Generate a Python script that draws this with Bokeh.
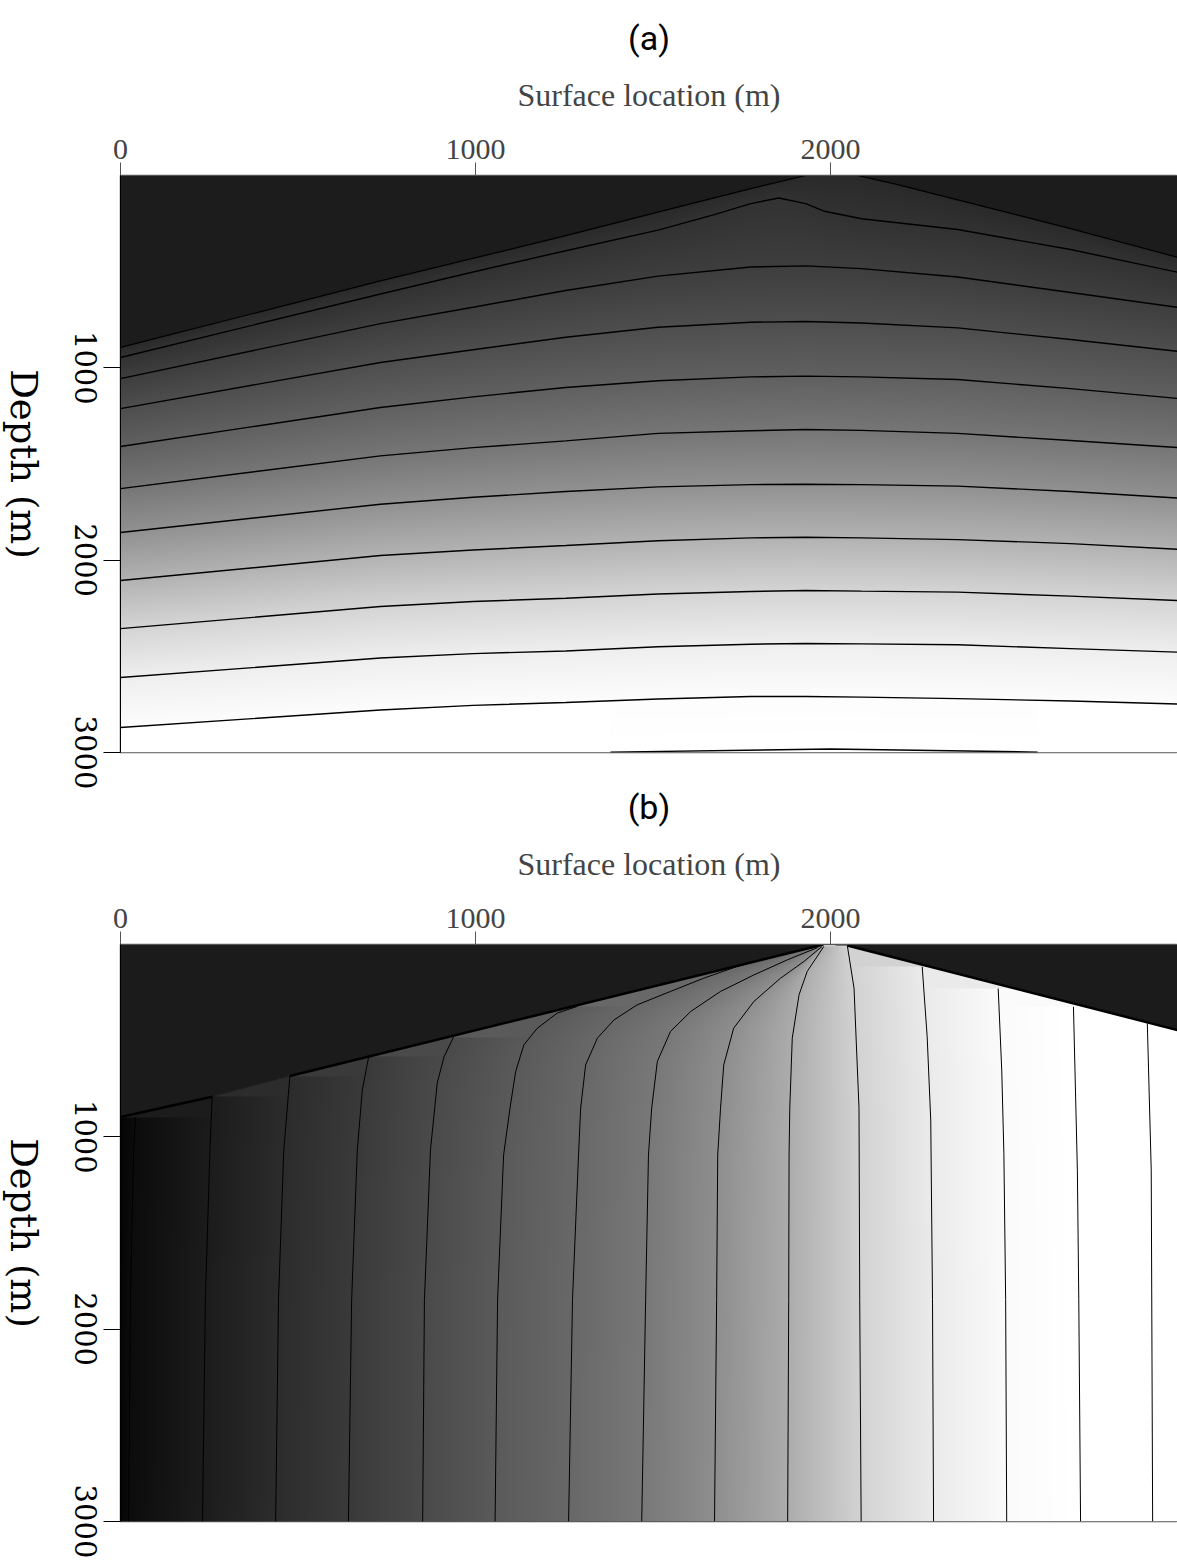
import numpy as np
from bokeh.plotting import figure
from bokeh.models import FixedTicker, Range1d, LinearColorMapper, Title, LinearAxis
from bokeh.layouts import column, row
from bokeh.embed import file_html
from bokeh.resources import INLINE

# ---------------- data ----------------
XMAX = 2977.0
ZMAX = 3000.0
x_ticks = [0, 1000, 2000]
z_ticks = [1000, 2000, 3000]

# panel (a): top of the computed region and the depth of each contour
a_top_x = [0, 732, 1254, 1566, 1775, 1930, 2076, 2192, 2358, 2676, 2977]
a_top_z = [894, 548, 313, 166, 68, 0, 0, 49, 127, 276, 425]
a_c1_x = [0, 732, 993, 1254, 1514, 1670, 1775, 1854, 1930, 1983, 2087, 2358, 2676, 2977]
a_c1_z = [946, 616, 502, 391, 284, 205, 146, 117, 146, 186, 225, 281, 385, 503]
a_cx = [0, 732, 993, 1254, 1514, 1775, 1930, 2087, 2358, 2676, 2977]
a_cz = [
    [1056, 770, 685, 598, 523, 476, 470, 484, 528, 608, 685],
    [1212, 972, 906, 841, 789, 763, 759, 767, 792, 853, 914],
    [1409, 1206, 1151, 1102, 1067, 1047, 1043, 1047, 1061, 1108, 1159],
    [1628, 1458, 1415, 1380, 1341, 1327, 1321, 1325, 1341, 1378, 1414],
    [1856, 1709, 1673, 1643, 1619, 1607, 1605, 1607, 1615, 1643, 1677],
    [2106, 1976, 1947, 1924, 1899, 1884, 1881, 1884, 1893, 1914, 1943],
    [2356, 2241, 2215, 2198, 2176, 2163, 2158, 2161, 2166, 2187, 2210],
    [2610, 2509, 2486, 2472, 2450, 2437, 2433, 2435, 2440, 2460, 2478],
    [2870, 2779, 2755, 2740, 2722, 2709, 2709, 2712, 2720, 2732, 2748],
]
a_c11_x = [1380, 2000, 2583]
a_c11_z = [2998, 2982, 2998]
a_gray = [42, 50, 62, 78, 96, 118, 145, 178, 212, 238, 252, 255]

# panel (b): top of the computed region and the lateral position of each contour
b_top_x = [0, 258, 477, 1980, 2047, 2977]
b_top_z = [897, 792, 684, 0, 5, 445]
b_cont_x = [
    [23, 28, 37, 42],
    [231, 239, 252, 258],
    [437, 445, 460, 477],
    [642, 651, 667, 681, 699],
    [851, 856, 873, 892, 911, 938],
    [1055, 1062, 1079, 1097, 1113, 1136, 1174, 1230, 1286],
    [1262, 1273, 1290, 1296, 1310, 1343, 1390, 1455, 1549, 1643, 1737, 1878, 1963],
    [1468, 1479, 1487, 1496, 1512, 1549, 1606, 1690, 1784, 1878, 1963],
    [1673, 1679, 1682, 1690, 1699, 1727, 1784, 1859, 1925, 1976],
    [1879, 1882, 1883, 1885, 1892, 1911, 1934, 1981],
    [2086, 2082, 2080, 2066, 2047],
    [2290, 2287, 2282, 2272, 2258],
    [2496, 2493, 2488, 2482, 2472],
    [2704, 2699, 2695, 2684],
    [2907, 2903, 2892],
]
b_cont_z = [
    [3000, 1847, 1069, 897],
    [3000, 1847, 1069, 792],
    [3000, 1847, 1069, 684],
    [3000, 1847, 1069, 757, 584],
    [3000, 1847, 1069, 721, 585, 481],
    [3000, 1847, 1095, 851, 660, 522, 435, 357, 322],
    [3000, 1847, 1095, 851, 626, 487, 392, 314, 244, 175, 114, 45, 10],
    [3000, 1847, 1095, 851, 608, 452, 348, 244, 158, 80, 16],
    [3000, 1847, 1095, 851, 626, 435, 296, 175, 88, 10],
    [3000, 1847, 1095, 851, 487, 262, 140, 10],
    [3000, 1847, 851, 227, 5],
    [3000, 1847, 913, 480, 116],
    [3000, 1847, 1086, 653, 229],
    [3000, 1847, 1173, 324],
    [3000, 1173, 410],
]
b_gray = [5, 12, 28, 44, 58, 74, 90, 104, 120, 142, 172, 210, 234, 250, 255, 255]

# ---------------- shaded fields built from the contours ----------------
NX, NY = 1057, 577
xc = (np.arange(NX) + 0.5) / NX * XMAX
zc = (np.arange(NY) + 0.5) / NY * ZMAX

img_a = np.zeros((NY, NX))
for i, x in enumerate(xc):
    top = np.interp(x, a_top_x, a_top_z)
    knots = [top, np.interp(x, a_c1_x, a_c1_z)] + [np.interp(x, a_cx, cz) for cz in a_cz]
    g = list(a_gray[:11])
    if a_c11_x[0] <= x <= a_c11_x[-1]:
        knots.append(np.interp(x, a_c11_x, a_c11_z))
        g.append(a_gray[11])
    knots = np.maximum.accumulate(np.array(knots))
    col = np.interp(zc, knots, g, left=g[0], right=255)
    col[zc < top] = 28
    img_a[:, i] = col

b_sorted = []
for cx, cz in zip(b_cont_x, b_cont_z):
    o = np.argsort(cz)
    b_sorted.append((np.array(cz, float)[o], np.array(cx, float)[o]))
top_b = np.interp(xc, b_top_x, b_top_z)
img_b = np.zeros((NY, NX))
for j, z in enumerate(zc):
    kx, kg = [], []
    for k, (zs, xs) in enumerate(b_sorted):
        if z >= zs[0]:
            if k == 0:
                kx.append(0.0)
                kg.append(b_gray[0])
            kx.append(np.interp(z, zs, xs))
            kg.append(b_gray[k + 1])
    if kx:
        kx = np.maximum.accumulate(np.array(kx))
        row_v = np.interp(xc, kx, kg, left=kg[0], right=kg[-1])
    else:
        row_v = np.full(NX, 190.0)
    row_v[z < top_b] = 27
    img_b[j, :] = row_v

gray256 = ["#%02x%02x%02x" % (v, v, v) for v in range(256)]


def make_fig(title, height, bottom, img):
    p = figure(width=1078, height=height, x_range=Range1d(0, XMAX), y_range=Range1d(ZMAX, 0),
               x_axis_location="above", output_backend="svg", toolbar_location=None,
               min_border_left=21, min_border_right=0, min_border_top=175,
               min_border_bottom=bottom)
    p.title = Title(text=title, align="center", text_font="Roboto",
                    text_font_size="34px", text_font_style="normal", text_color="black", standoff=31)
    p.border_fill_color = None
    p.background_fill_color = "white"
    p.outline_line_color = "#555555"
    p.outline_line_width = 1.5
    p.grid.visible = False
    cm = LinearColorMapper(palette=gray256, low=0, high=255)
    p.image(image=[img], x=0, y=0, dw=XMAX, dh=ZMAX, color_mapper=cm)

    xa = p.xaxis[0]
    xa.ticker = FixedTicker(ticks=x_ticks)
    xa.axis_label = "Surface location (m)"
    xa.axis_label_text_font = "Liberation Serif"
    xa.axis_label_text_font_size = "32px"
    xa.axis_label_text_font_style = "normal"
    xa.axis_label_standoff = 24
    xa.major_label_text_font = "Liberation Serif"
    xa.major_label_text_font_size = "30px"
    xa.major_label_standoff = 4
    xa.major_tick_out = 13
    xa.major_tick_in = 0
    xa.minor_tick_out = 0
    xa.minor_tick_in = 0
    xa.axis_line_color = "#555555"
    xa.major_tick_line_color = "#555555"

    ya = p.yaxis[0]
    ya.ticker = FixedTicker(ticks=z_ticks)
    ya.major_label_overrides = {t: "" for t in z_ticks}
    ya.major_label_text_font_size = "0px"
    ya.major_label_standoff = 0
    ya.major_tick_out = 17
    ya.major_tick_in = 0
    ya.minor_tick_out = 0
    ya.minor_tick_in = 0
    ya.axis_line_color = "black"
    ya.major_tick_line_color = "black"
    return p


def make_side(height, bottom):
    """Depth labels: right-hand axes (text reads downwards) of a narrow strip left of the panel."""
    h = figure(width=99, height=height, x_range=Range1d(0, 1), y_range=Range1d(ZMAX, 0),
               x_axis_location=None, y_axis_location=None, output_backend="svg",
               toolbar_location=None, min_border_left=0, min_border_right=0,
               min_border_top=175, min_border_bottom=bottom)
    h.outline_line_color = None
    h.background_fill_color = None
    h.border_fill_color = None
    h.grid.visible = False
    dax = LinearAxis(ticker=FixedTicker(ticks=[]), axis_label="Depth (m)",
                     axis_label_standoff=0, axis_label_text_font="DejaVu Serif",
                     axis_label_text_font_size="37px", axis_label_text_font_style="normal",
                     axis_label_text_color="black", axis_line_color=None,
                     major_tick_out=0, major_tick_in=0, minor_tick_out=0, minor_tick_in=0,
                     major_label_standoff=0, major_label_text_font_size="0px")
    h.add_layout(dax, "right")
    tax = LinearAxis(ticker=FixedTicker(ticks=z_ticks), major_label_orientation="parallel",
                     major_label_text_font="DejaVu Serif", major_label_text_font_size="29px",
                     major_label_text_color="black", major_label_standoff=27,
                     axis_line_color=None, major_tick_out=0, major_tick_in=0,
                     minor_tick_out=0, minor_tick_in=0)
    h.add_layout(tax, "right")
    return h


pa = make_fig("(a)", 800, 48, img_a)
pa.multi_line(xs=[a_c1_x] + [a_cx] * len(a_cz) + [a_c11_x],
              ys=[a_c1_z] + a_cz + [a_c11_z], line_color="black", line_width=1.4)
pa.line(a_top_x, a_top_z, line_color="black", line_width=1.2)
ha = make_side(800, 48)

pb = make_fig("(b)", 799, 47, img_b)
pb.multi_line(xs=b_cont_x, ys=b_cont_z, line_color="black", line_width=1.0)
pb.multi_line(xs=[b_top_x[0:2], b_top_x[2:4], b_top_x[4:6]],
              ys=[b_top_z[0:2], b_top_z[2:4], b_top_z[4:6]], line_color="black", line_width=2.5)
hb = make_side(799, 47)

row_a = row(ha, pa, spacing=0)
row_b = row(hb, pb, spacing=0)
row_b.margin = (-31, 0, 0, 0)

layout = column(row_a, row_b, spacing=0)
open("out.html", "w").write(file_html(layout, INLINE))
